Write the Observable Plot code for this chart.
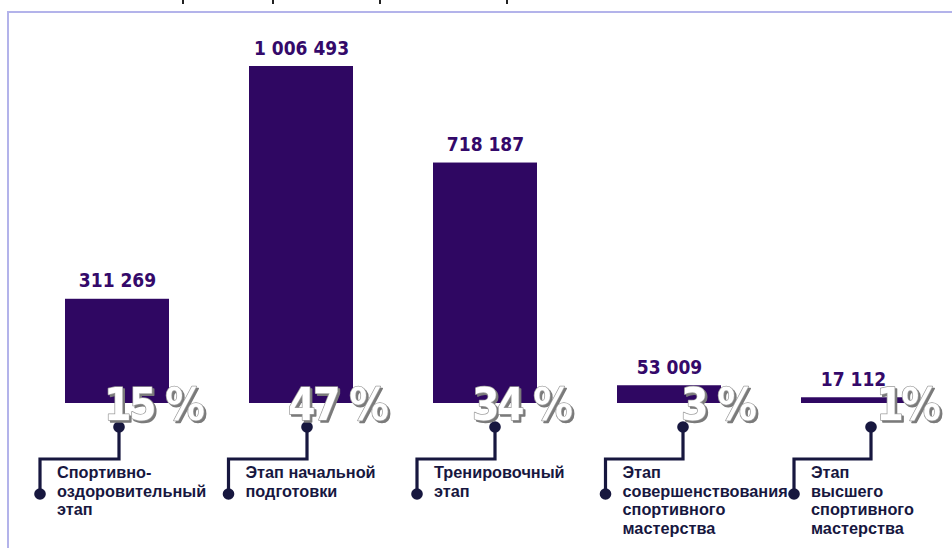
<!DOCTYPE html>
<html>
<head>
<meta charset="utf-8">
<script src="https://cdn.jsdelivr.net/npm/d3@7"></script>
<script src="https://cdn.jsdelivr.net/npm/@observablehq/plot@0.6"></script>
<style>
  body { margin: 0; background: #fff; }
  #wrap { position: relative; width: 952px; height: 548px; overflow: hidden; background: #fff; }
  #frame { position: absolute; left: 7px; top: 11px; right: -10px; bottom: -10px;
           border-top: 2px solid #b3b3ea; border-left: 2px solid #b3b3ea; }
  .tick { position: absolute; top: 0; width: 2px; height: 4px; background: #222; }
  #wrap svg { position: absolute; left: 0; top: 0; }
</style>
</head>
<body>
<div id="wrap">
  <div id="frame"></div>
  <div class="tick" style="left:182px"></div>
  <div class="tick" style="left:272px"></div>
  <div class="tick" style="left:379px"></div>
  <div class="tick" style="left:506px"></div>
</div>
<script>
// ---- data ----
const stages = ["s1", "s2", "s3", "s4", "s5"];
const stageLabels = [
  "Спортивно-\nоздоровительный\nэтап",
  "Этап начальной\nподготовки",
  "Тренировочный\nэтап",
  "Этап\nсовершенствования\nспортивного\nмастерства",
  "Этап\nвысшего\nспортивного\nмастерства"
];
const values = [311269, 1006493, 718187, 53009, 17112];
const shareLabels = ["15 %", "47 %", "34 %", "3 %", "1%"];

const rows = stages.map((s, i) => ({stage: s, value: values[i], share: shareLabels[i], label: stageLabels[i], i}));

const purple = "#2f0762";
const labelPurple = "#34096a";
const navy = "#17173f";
const cond = "'Liberation Sans Narrow', 'DejaVu Sans Condensed', sans-serif";
const sans = "'Liberation Sans', Arial, sans-serif";
const fmt = d3.formatLocale({thousands: " ", grouping: [3], decimal: ","}).format(",d");

// connectors + stage labels, positioned from the library's scales
function connectors(index, scales) {
  const x = scales.x, y = scales.y;
  const bw = x.bandwidth ? x.bandwidth() : 0;
  const base = y(0);
  const g = d3.create("svg:g").attr("text-anchor", "start");
  rows.forEach((r, i) => {
    const cx = x(r.stage) + bw / 2;
    const tx = cx + 2 + 4 * i;
    const lx = cx - 77 + 4.5 * i;
    const y1 = base + 24, y2 = base + 56, y3 = base + 91;
    g.append("path")
      .attr("d", `M${tx},${y1}V${y2}H${lx}V${y3}`)
      .attr("fill", "none").attr("stroke", navy).attr("stroke-width", 3.2);
    g.append("circle").attr("cx", tx).attr("cy", y1).attr("r", 5.8).attr("fill", navy);
    g.append("circle").attr("cx", lx).attr("cy", y3).attr("r", 5.8).attr("fill", navy);
    const t = g.append("text")
      .attr("x", lx + 17).attr("y", base + 75)
      .attr("text-anchor", "start")
      .attr("fill", navy).attr("font-family", sans)
      .attr("font-weight", "bold").attr("font-size", 16.3);
    r.label.split("\n").forEach((line, k) => {
      t.append("tspan").attr("x", lx + 17).attr("y", base + 75 + k * 18.5).text(line);
    });
  });
  return g.node();
}

const chart = Plot.plot({
  width: 952,
  height: 548,
  margin: 0,
  style: {background: "transparent", overflow: "visible"},
  x: {domain: stages, range: [65, 905], paddingInner: 0.435, paddingOuter: 0, axis: null},
  y: {domain: [0, 1006493], range: [403, 66], axis: null},
  marks: [
    Plot.barY(rows, {x: "stage", y: "value", fill: purple}),
    Plot.text(rows, {x: "stage", y: "value", text: d => fmt(d.value), dy: -12, lineAnchor: "bottom",
      fill: labelPurple, fontSize: 19, fontWeight: "bold", fontFamily: cond}),
    connectors,
    Plot.text(rows, {x: "stage", y: () => 0, text: "share", textAnchor: "end", lineAnchor: "middle",
      dx: 85, dy: 2, fill: "#ffffff", stroke: "#9a9a9a", strokeWidth: 1.5, fontSize: 44, fontWeight: "bold", fontFamily: cond})
  ]
});
const textGroups = chart.querySelectorAll('g[aria-label="text"]');
const shareGroup = textGroups[textGroups.length - 1];
if (shareGroup) {
  shareGroup.style.filter = "drop-shadow(2px 2px 0.5px #7a7a7a)";
  shareGroup.style.letterSpacing = "-2.5px";
}
document.getElementById("wrap").appendChild(chart);
</script>
</body>
</html>
